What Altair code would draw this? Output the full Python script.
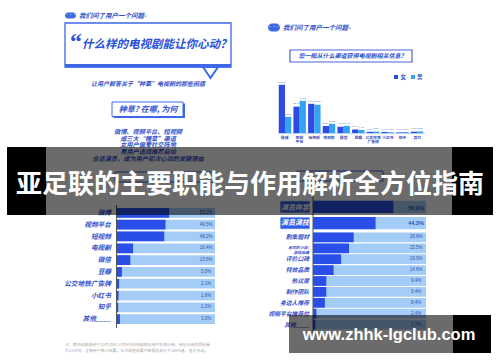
import altair as alt
import pandas as pd

# ---------------- text content ----------------
banner_title = "亚足联的主要职能与作用解析全方位指南"
url_text = "www.zhhk-lgclub.com"
ask_text = "我们问了用户一个问题-"
q_quote = "“"
q_main = "什么样的电视剧能让你心动?"
q_sub = "让用户解答关于“种草”电视剧的那些困惑"
q_tag = "种草? 在哪, 为何"
summary_lines = ["微博、视频平台、短视频", "成三大“種草”渠道", "女用户偏爱社交阵地",
                 "男用户选择推荐自给", "合适演员，成为用户初次心动的关键理由"]
q_right = "您一般从什么渠道获得电视剧相关信息?"
footnote_lines = ["注：腾讯视频调研于10月30日-11月9日向视频网站用户投放问卷，有效问卷的回收量",
                  "为1318份，全数用于统计结果。本次调查结果中数据总和大于100%者，皆为多选。"]

# ---------------- data: channels (bottom-left) ----------------
channel_cats = ["微博", "视频平台", "短视频", "电视剧", "微信", "豆瓣", "公交地铁广告牌", "小红书", "知乎", "其他"]
channel_labels = ["微博", "视频平台", "短视频", "电视剧", "微信", "豆瓣", "公交地铁广告牌", "小红书", "知乎", "其他____"]
channel_vals = [53.2, 49.5, 48.2, 16.4, 13.6, 5.0, 2.1, 1.6, 1.2, 3.0]

# ---------------- data: sources by gender (top-right) ----------------
src_cats = ["微博", "视频平台", "短视频", "电视剧", "微信", "豆瓣", "公交地铁广告牌", "小红书", "知乎", "其它"]
src_labels = ["微博", "视频\n平台", "短视频", "电视剧", "微信", "豆瓣", "公交地铁\n广告牌", "小红书", "知乎", "其它"]
legend_names = ["女", "男"]
female_vals = [70.3, 38.4, 42.6, 10.2, 9.1, 5.1, 1.8, 1.6, 0.9, 1.9]
male_vals = [23.5, 47.0, 41.2, 13.3, 10.4, 4.4, 2.1, 1.2, 1.5, 2.2]

# ---------------- data: factors (bottom-right) ----------------
factor_top = ["演员阵容", "演员演技"]
factor_top_vals = [56.9, 44.3]
factor_cats = ["剧集题材", "喜欢的小说/游戏改编", "评价口碑", "特效品质", "热议度", "制作团队", "身边人推荐", "视频平台推荐位", "其他"]
factor_labels = ["剧集题材", "喜欢的小说/\n游戏改编", "评价口碑", "特效品质", "热议度", "制作团队", "身边人推荐", "视频平台推荐位", "其他____"]
factor_vals = [28.8, 25.5, 19.9, 14.6, 9.4, 9.4, 8.4, 2.4, 1.7]

# ---------------- styles ----------------
CJK = "Noto Sans CJK SC"
BLUE_TXT = "#3452cc"
BLUE_LINE = "#3d68e6"
DARK_BAR = "#2a4ee8"
LIGHT_BAR = "#a3cdf6"
F_COL = "#2b4be3"
M_COL = "#35a3f4"

one = pd.DataFrame({"k": [0]})


def rect(x1, x2, y1, y2, **kw):
    return alt.Chart(one).mark_rect(**kw).encode(
        x=alt.value(x1), x2=alt.value(x2), y=alt.value(y1), y2=alt.value(y2))


def label(s, x, y, size, color=BLUE_TXT, **kw):
    props = dict(font=CJK, fontSize=size, color=color, baseline="middle")
    props.update(kw)
    return alt.Chart(one).mark_text(**props).encode(
        x=alt.value(x), y=alt.value(y), text=alt.value(s))


layers = []
layers.append(rect(0, 500, 0, 362, color="white"))

# ---- top-left infographic ----
layers.append(rect(65, 76, 12.5, 18.5, color=BLUE_LINE, cornerRadius=3))
layers.append(label("•••", 70.5, 15.6, 4, color="white"))
layers.append(label(ask_text, 79, 15.8, 6.5, align="left", fontWeight="bold", fontStyle="italic"))
layers.append(rect(65, 231, 23, 67, fill="white", stroke=BLUE_LINE, strokeWidth=1.3))
layers.append(rect(65, 231, 64, 67.5, color=BLUE_LINE))
layers.append(alt.Chart(one).mark_point(
    shape="M-1,-0.73L0,0.73L1,-0.73Z", size=225, filled=True, fill="white",
    stroke=BLUE_LINE, strokeWidth=2, opacity=1).encode(x=alt.value(210.5), y=alt.value(72.5)))
layers.append(label(q_quote, 76, 49, 24, color="#2950d8", font="Liberation Serif",
                    fontWeight="bold", baseline="alphabetic"))
layers.append(label(q_main, 82, 44.5, 11.5, color="#2950d8", align="left",
                    fontWeight="bold", fontStyle="italic"))
layers.append(label(q_sub, 148, 84, 6, align="center", fontWeight="bold", fontStyle="italic"))
layers.append(rect(113.5, 185, 103.5, 118, color=BLUE_LINE))
layers.append(rect(112, 183, 102, 116.5, fill="white", stroke=BLUE_LINE, strokeWidth=1))
layers.append(label(q_tag, 148, 109.5, 8, color="#2e55d6", align="center",
                    fontWeight="bold", fontStyle="italic"))
layers.append(alt.Chart(one).mark_text(
    font=CJK, fontSize=6.2, color=BLUE_TXT, align="center", baseline="top",
    lineBreak="\n", lineHeight=6.6, fontWeight="bold", fontStyle="italic").encode(
    x=alt.value(148), y=alt.value(129.2), text=alt.value("\n".join(summary_lines))))
layers.append(rect(115, 213, 172, 182, fill="white", stroke=BLUE_LINE, strokeWidth=1))

# ---- top-right infographic ----
layers.append(rect(268, 280, 23.5, 31.5, color=BLUE_LINE, cornerRadius=4))
layers.append(label("•••", 274, 27.6, 4, color="white"))
layers.append(label(ask_text, 283, 28, 6.5, align="left", fontWeight="bold", fontStyle="italic"))
layers.append(rect(290, 412, 50, 62, fill="white", stroke="#4a66d4", strokeWidth=1.2))
layers.append(label(q_right, 351, 56.3, 6, align="center", fontWeight="bold", fontStyle="italic"))

for name, col, sx, tx in zip(legend_names, [F_COL, M_COL], [396, 413], [400.5, 417]):
    layers.append(alt.Chart(one).mark_square(size=16, color=col, opacity=1).encode(
        x=alt.value(sx), y=alt.value(77)))
    layers.append(label(name, tx, 77.3, 5.5, align="left", fontWeight="bold"))

src_df = pd.DataFrame({
    "cat": src_cats * 2,
    "sex": [legend_names[0]] * len(src_cats) + [legend_names[1]] * len(src_cats),
    "v": female_vals + male_vals,
})
src_df["lbl"] = src_df["v"].map(lambda v: f"{v:.1f}%")
src_x = alt.Scale(domain=src_cats, range=[277.3, 424.7], paddingInner=0.15, paddingOuter=0.1)
src_y = alt.Scale(domain=[0, 70], range=[133, 85], nice=False)
sex_col = alt.Scale(domain=legend_names, range=[F_COL, M_COL])
xo = alt.XOffset("sex:N", scale=alt.Scale(domain=legend_names, paddingInner=0))

layers.append(rect(278, 425, 133, 134, color="#b9d3f3"))
layers.append(alt.Chart(src_df).mark_bar().encode(
    x=alt.X("cat:N", scale=src_x, axis=None), xOffset=xo,
    y=alt.Y("v:Q", scale=src_y, axis=None),
    color=alt.Color("sex:N", scale=sex_col, legend=None)))
layers.append(alt.Chart(src_df).mark_text(fontSize=2.5, color="#4a5db8", baseline="bottom", dy=-1).encode(
    x=alt.X("cat:N", scale=src_x, axis=None), xOffset=xo,
    y=alt.Y("v:Q", scale=src_y, axis=None), text="lbl:N"))
src_lbl_df = pd.DataFrame({"cat": src_cats, "lbl": src_labels})
layers.append(alt.Chart(src_lbl_df).mark_text(
    font=CJK, fontSize=3.8, color="#3b4fb8", baseline="top", lineBreak="\n",
    lineHeight=4.5, fontWeight="bold").encode(
    x=alt.X("cat:N", scale=src_x, axis=None), y=alt.value(135.5), text="lbl:N"))
layers.append(rect(297, 383, 171, 181, fill="white", stroke=BLUE_LINE, strokeWidth=1))

# ---- bottom-left chart ----
ch_df = pd.DataFrame({"cat": channel_cats, "lbl": channel_labels, "v": channel_vals,
                      "full": [100] * len(channel_cats)})
ch_df["vt"] = ch_df["v"].map(lambda v: f"{v:.1f}%")
ch_y = alt.Scale(domain=channel_cats, range=[207, 325], paddingInner=0.17, paddingOuter=0.08)
ch_x = alt.Scale(domain=[0, 100], range=[117, 215], nice=False)
layers.append(alt.Chart(ch_df).mark_bar(color=LIGHT_BAR).encode(
    x=alt.X("full:Q", scale=ch_x, axis=None), y=alt.Y("cat:N", scale=ch_y, axis=None)))
layers.append(alt.Chart(ch_df).mark_bar(color=DARK_BAR).encode(
    x=alt.X("v:Q", scale=ch_x, axis=None), y=alt.Y("cat:N", scale=ch_y, axis=None)))
layers.append(alt.Chart(ch_df).mark_text(
    font=CJK, fontSize=6.7, color=BLUE_TXT, align="right", baseline="middle",
    fontWeight="bold", fontStyle="italic").encode(
    x=alt.value(111), y=alt.Y("cat:N", scale=ch_y, axis=None), text="lbl:N"))
layers.append(alt.Chart(ch_df).mark_text(fontSize=4.5, color="#3550b5", baseline="middle").encode(
    x=alt.value(206), y=alt.Y("cat:N", scale=ch_y, axis=None), text="vt:N"))
layers.append(rect(116, 117, 205, 328, color="#555555"))
layers.append(alt.Chart(one).mark_text(
    font=CJK, fontSize=3.9, color="#a8a8a8", align="left", baseline="top",
    lineBreak="\n", lineHeight=6).encode(
    x=alt.value(65), y=alt.value(342.5), text=alt.value("\n".join(footnote_lines))))

# ---- bottom-right chart ----
ft_x = alt.Scale(domain=[0, 80], range=[313, 426], nice=False)
top_df = pd.DataFrame({"cat": factor_top, "v": factor_top_vals, "full": [80] * len(factor_top)})
top_df["vt"] = top_df["v"].map(lambda v: f"{v:.1f}%")
top_y = alt.Scale(domain=factor_top, range=[200, 230], paddingInner=0.25, paddingOuter=0.05)
layers.append(alt.Chart(top_df).mark_bar(color=LIGHT_BAR).encode(
    x=alt.X("full:Q", scale=ft_x, axis=None), y=alt.Y("cat:N", scale=top_y, axis=None)))
layers.append(alt.Chart(top_df).mark_bar(color=DARK_BAR).encode(
    x=alt.X("v:Q", scale=ft_x, axis=None), y=alt.Y("cat:N", scale=top_y, axis=None)))
layers.append(alt.Chart(top_df).mark_rect(color="#2f5fe6", stroke="white", strokeWidth=0.8).encode(
    x=alt.value(280), x2=alt.value(310), y=alt.Y("cat:N", scale=top_y, axis=None)))
layers.append(alt.Chart(top_df).mark_text(
    font=CJK, fontSize=7, color="white", align="center", baseline="middle",
    fontWeight="bold", fontStyle="italic").encode(
    x=alt.value(295), y=alt.Y("cat:N", scale=top_y, axis=None), text="cat:N"))
layers.append(alt.Chart(top_df).mark_text(fontSize=5.5, color="#3550b5", baseline="middle",
                                          fontWeight="bold").encode(
    x=alt.value(416), y=alt.Y("cat:N", scale=top_y, axis=None), text="vt:N"))

ft_df = pd.DataFrame({"cat": factor_cats, "lbl": factor_labels, "v": factor_vals,
                      "full": [80] * len(factor_cats)})
ft_df["vt"] = ft_df["v"].map(lambda v: f"{v:.1f}%")
ft_y = alt.Scale(domain=factor_cats, range=[232, 330], paddingInner=0.1, paddingOuter=0.05)
layers.append(alt.Chart(ft_df).mark_bar(color=LIGHT_BAR).encode(
    x=alt.X("full:Q", scale=ft_x, axis=None), y=alt.Y("cat:N", scale=ft_y, axis=None)))
layers.append(alt.Chart(ft_df).mark_bar(color=DARK_BAR).encode(
    x=alt.X("v:Q", scale=ft_x, axis=None), y=alt.Y("cat:N", scale=ft_y, axis=None)))
multi = "indexof(datum.lbl, '\\n') >= 0"
layers.append(alt.Chart(ft_df).transform_filter("!(" + multi + ")").mark_text(
    font=CJK, fontSize=5.8, color=BLUE_TXT, align="right", baseline="middle",
    fontWeight="bold", fontStyle="italic").encode(
    x=alt.value(309), y=alt.Y("cat:N", scale=ft_y, axis=None), text="lbl:N"))
layers.append(alt.Chart(ft_df).transform_filter(multi).mark_text(
    font=CJK, fontSize=3.9, color=BLUE_TXT, align="right", baseline="middle",
    lineBreak="\n", lineHeight=4.2, fontWeight="bold", fontStyle="italic").encode(
    x=alt.value(309), y=alt.Y("cat:N", scale=ft_y, axis=None), text="lbl:N"))
layers.append(alt.Chart(ft_df).mark_text(fontSize=4.5, color="#3550b5", baseline="middle").encode(
    x=alt.value(416), y=alt.Y("cat:N", scale=ft_y, axis=None), text="vt:N"))
layers.append(rect(312.5, 313.5, 197, 333, color="#555555"))

# ---- overlays ----
layers.append(rect(46, 452, 147, 215, color="black", opacity=0.58))
layers.append(rect(7, 46, 147, 215, color="black"))
layers.append(rect(452, 493, 147, 215, color="black"))
layers.append(label(banner_title, 250, 185, 26, color="white", align="center", fontWeight="bold"))
layers.append(rect(289, 453, 315, 353, color="black", opacity=0.58))
layers.append(rect(453, 491, 315, 353, color="black"))
layers.append(label(url_text, 389, 339.5, 16.5, color="white", align="center",
                    font="Liberation Sans", fontWeight="bold", baseline="alphabetic"))

chart = alt.layer(*layers).resolve_scale(
    x="independent", y="independent", color="independent"
).properties(
    width=500, height=362, autosize=alt.AutoSizeParams(type="none"), padding=0
).configure_view(stroke=None).configure(background="white")

chart.save("out.html", embed_options={"renderer": "svg", "actions": False})
